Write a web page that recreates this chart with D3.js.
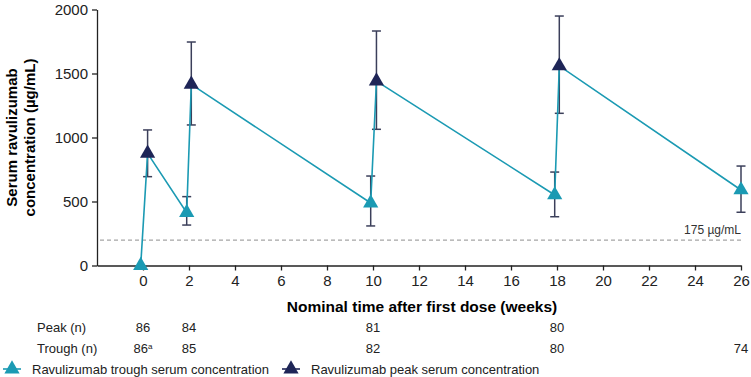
<!DOCTYPE html>
<html>
<head>
<meta charset="utf-8">
<script src="https://cdn.jsdelivr.net/npm/d3@7"></script>
<style>
  body { margin: 0; background: #fff; }
  svg { font-family: "Liberation Sans", Arial, sans-serif; }
</style>
</head>
<body>
<div id="chart"></div>
<script>
// Measurement sequence (trough, peak, trough, ...) in drawing order.
const weeks    = [-0.1, 0.2, 1.9, 2.1, 9.9, 10.15, 17.9, 18.1, 26];
const kinds    = ['trough', 'peak', 'trough', 'peak', 'trough', 'peak', 'trough', 'peak', 'trough'];
const means    = [0, 876, 413, 1415, 488, 1441, 551, 1559, 590];
const lower    = [null, 694, 316, 1098, 309, 1064, 381, 1189, 416];
const upper    = [null, 1059, 538, 1746, 699, 1832, 730, 1949, 777];
const xTicks   = [0, 2, 4, 6, 8, 10, 12, 14, 16, 18, 20, 22, 24, 26];
const yTicks   = [0, 500, 1000, 1500, 2000];
const thresholdValue = 199;
const thresholdLabel = '175 µg/mL';
const peakWeeks   = [0, 2, 10, 18];
const peakN       = ['86', '84', '81', '80'];
const troughWeeks = [0, 2, 10, 18, 26];
const troughN     = ['86', '85', '82', '80', '74'];

const width = 751, height = 377;
const margin = {top: 10, right: 10, bottom: 112, left: 97};
const teal = '#1b9ab3';
const navy = '#1e2557';
const barColor = '#3b3f5a';

const svg = d3.select('#chart')
    .append('svg')
        .attr('width', width)
        .attr('height', height);

const x = d3.scaleLinear().domain([-2, 26]).range([margin.left, 741]);
const y = d3.scaleLinear().domain([0, 2000]).range([265.5, 9.5]);

// Y axis.
const yAxis = svg.append('g')
    .attr('transform', `translate(${margin.left},0)`)
    .call(d3.axisLeft(y).tickValues(yTicks).tickFormat(d3.format('d')).tickSize(5).tickPadding(4).tickSizeOuter(0));
yAxis.selectAll('text').style('font-size', '15px').attr('fill', '#222');
yAxis.select('.domain').attr('stroke', '#222').attr('stroke-width', 1.3);
yAxis.selectAll('.tick line').attr('stroke', '#222').attr('stroke-width', 1.3);

// X axis.
const xAxis = svg.append('g')
    .attr('transform', `translate(0,${y(0)})`)
    .call(d3.axisBottom(x).tickValues(xTicks).tickSize(5).tickPadding(5).tickSizeOuter(0));
xAxis.selectAll('text').style('font-size', '15px').attr('fill', '#222');
xAxis.select('.domain').attr('stroke', '#222').attr('stroke-width', 1.3);
xAxis.selectAll('.tick line').attr('stroke', '#222').attr('stroke-width', 1.3);

// Axis titles.
svg.append('text')
    .attr('transform', `translate(17,${y(1000)}) rotate(-90)`)
    .attr('text-anchor', 'middle')
    .style('font-size', '15px').style('font-weight', 'bold')
    .text('Serum ravulizumab');
svg.append('text')
    .attr('transform', `translate(35,${y(1000)}) rotate(-90)`)
    .attr('text-anchor', 'middle')
    .style('font-size', '15px').style('font-weight', 'bold')
    .text('concentration (µg/mL)');
svg.append('text')
    .attr('x', 422).attr('y', 312)
    .attr('text-anchor', 'middle')
    .style('font-size', '15.5px').style('font-weight', 'bold')
    .text('Nominal time after first dose (weeks)');

// Threshold line.
svg.append('line')
    .attr('x1', margin.left + 3).attr('x2', x(26))
    .attr('y1', y(thresholdValue)).attr('y2', y(thresholdValue))
    .attr('stroke', '#a5a5a5').attr('stroke-width', 1.2)
    .attr('stroke-dasharray', '4,3');
svg.append('text')
    .attr('x', x(26)).attr('y', y(thresholdValue) - 6)
    .attr('text-anchor', 'end')
    .style('font-size', '12px').attr('fill', '#333')
    .text(thresholdLabel);

const points = weeks.map((w, i) => ({week: w, kind: kinds[i], mean: means[i], lo: lower[i], hi: upper[i]}));

// Error bars.
const bars = svg.append('g')
    .selectAll('g')
    .data(points.filter(d => d.lo !== null))
    .join('g')
        .attr('stroke', barColor)
        .attr('stroke-width', 1.5);
bars.append('line')
    .attr('x1', d => x(d.week)).attr('x2', d => x(d.week))
    .attr('y1', d => y(d.lo)).attr('y2', d => y(d.hi));
bars.append('line')
    .attr('x1', d => x(d.week) - 4.5).attr('x2', d => x(d.week) + 4.5)
    .attr('y1', d => y(d.lo)).attr('y2', d => y(d.lo));
bars.append('line')
    .attr('x1', d => x(d.week) - 4.5).attr('x2', d => x(d.week) + 4.5)
    .attr('y1', d => y(d.hi)).attr('y2', d => y(d.hi));

// Connecting line.
svg.append('path')
    .datum(points)
    .attr('fill', 'none')
    .attr('stroke', teal)
    .attr('stroke-width', 1.6)
    .attr('d', d3.line().x(d => x(d.week)).y(d => y(d.mean)));

// Markers.
const tri = d3.symbol().type(d3.symbolTriangle).size(100);
svg.append('g')
    .selectAll('path')
    .data(points)
    .join('path')
        .attr('d', tri)
        .attr('transform', d => `translate(${x(d.week)},${y(d.mean)})`)
        .attr('fill', d => d.kind === 'peak' ? navy : teal);

// Number at risk table.
const table = svg.append('g').style('font-size', '13px').attr('fill', '#222');
table.append('text').attr('x', 37).attr('y', 332).text('Peak (n)');
table.append('text').attr('x', 37).attr('y', 353).text('Trough (n)');
table.selectAll('.peakn')
    .data(peakWeeks)
    .join('text')
        .attr('x', d => x(d)).attr('y', 332)
        .attr('text-anchor', 'middle')
        .text((d, i) => peakN[i]);
const tn = table.selectAll('.troughn')
    .data(troughWeeks)
    .join('text')
        .attr('x', d => x(d)).attr('y', 353)
        .attr('text-anchor', 'middle')
        .text((d, i) => troughN[i]);
tn.filter((d, i) => i === 0)
    .append('tspan')
    .attr('baseline-shift', 'super')
    .style('font-size', '8px')
    .text('a');

// Legend.
const legend = svg.append('g').style('font-size', '13px').attr('fill', '#222');
const legendItems = [
    {label: 'Ravulizumab trough serum concentration', color: teal, x: 12},
    {label: 'Ravulizumab peak serum concentration', color: navy, x: 291}
];
const li = legend.selectAll('g')
    .data(legendItems)
    .join('g')
        .attr('transform', d => `translate(${d.x},369)`);
li.append('line')
    .attr('x1', -9).attr('x2', 9)
    .attr('stroke', d => d.color).attr('stroke-width', 1.6);
li.append('path')
    .attr('d', tri)
    .attr('fill', d => d.color);
li.append('text')
    .attr('x', 20).attr('y', 5)
    .text(d => d.label);
</script>
</body>
</html>
